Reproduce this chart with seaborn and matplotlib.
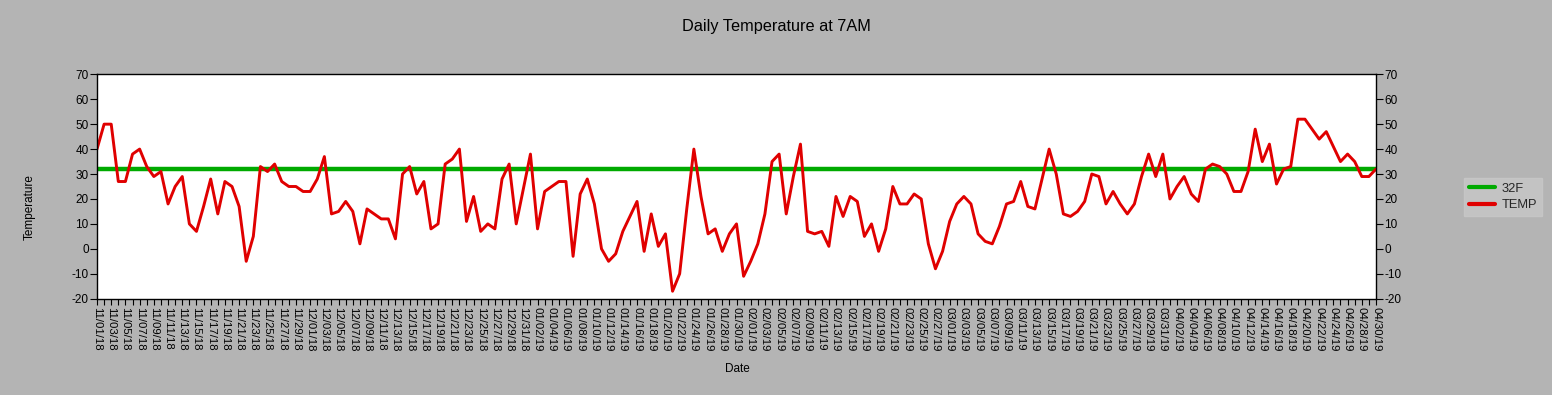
import numpy as np
import pandas as pd
import matplotlib
matplotlib.use("Agg")
import matplotlib.pyplot as plt
import seaborn as sns
from matplotlib.lines import Line2D

# ---- data ----
start_date = "2018-11-01"
end_date = "2019-04-30"
freeze_temp = 32
temps = [
    40, 50, 50, 27, 27, 38, 40, 33, 29, 31,
    18, 25, 29, 10, 7, 17, 28, 14, 27, 25,
    17, -5, 5, 33, 31, 34, 27, 25, 25, 23,
    23, 28, 37, 14, 15, 19, 15, 2, 16, 14,
    12, 12, 4, 30, 33, 22, 27, 8, 10, 34,
    36, 40, 11, 21, 7, 10, 8, 28, 34, 10,
    24, 38, 8, 23, 25, 27, 27, -3, 22, 28,
    18, 0, -5, -2, 7, 13, 19, -1, 14, 1,
    6, -17, -10, 16, 40, 21, 6, 8, -1, 6,
    10, -11, -5, 2, 14, 35, 38, 14, 29, 42,
    7, 6, 7, 1, 21, 13, 21, 19, 5, 10,
    -1, 8, 25, 18, 18, 22, 20, 2, -8, -1,
    11, 18, 21, 18, 6, 3, 2, 9, 18, 19,
    27, 17, 16, 28, 40, 30, 14, 13, 15, 19,
    30, 29, 18, 23, 18, 14, 18, 29, 38, 29,
    38, 20, 25, 29, 22, 19, 32, 34, 33, 30,
    23, 23, 31, 48, 35, 42, 26, 32, 33, 52,
    52, 48, 44, 47, 41, 35, 38, 35, 29, 29,
    32,
]
y_ticks = [-20, -10, 0, 10, 20, 30, 40, 50, 60, 70]

dates = pd.date_range(start_date, end_date, freq="D")
date_labels = [d.strftime("%m/%d/%y") for d in dates]
idx = np.arange(len(dates))

df = pd.DataFrame({
    "idx": np.concatenate([idx, idx]),
    "value": np.concatenate([np.full(len(idx), freeze_temp), np.array(temps)]),
    "series": ["32F"] * len(idx) + ["TEMP"] * len(idx),
})

# ---- style ----
sns.set_theme(style="white")
plt.rcParams["font.family"] = ["Liberation Sans", "DejaVu Sans"]

bg = "#b4b4b4"
fig = plt.figure(figsize=(15.52, 3.95), dpi=100, facecolor=bg)
ax = fig.add_axes([97 / 1552, 1 - 298.7 / 395, (1376 - 97) / 1552, (298.7 - 74.3) / 395])
ax.set_facecolor("white")

palette = {"32F": "#00aa00", "TEMP": "#e00000"}
sns.lineplot(data=df[df.series == "32F"], x="idx", y="value", color=palette["32F"],
             linewidth=3.2, ax=ax, legend=False)
sns.lineplot(data=df[df.series == "TEMP"], x="idx", y="value", color=palette["TEMP"],
             linewidth=2.1, ax=ax, legend=False)

ax.set_xlim(0, len(idx) - 1)
ax.set_ylim(-20, 70)
ax.set_yticks(y_ticks)
ax.set_yticklabels([str(v) for v in y_ticks])
ax.set_xticks(idx, minor=True)
ax.set_xticks(idx[::2])
ax.set_xticklabels(date_labels[::2], rotation=270, ha="center", va="top")
ax.tick_params(axis="x", which="both", direction="out", length=4, width=0.8,
               colors="black", labelsize=8.2, pad=2, bottom=True)
ax.tick_params(axis="y", which="both", direction="out", length=5, width=0.8,
               colors="black", labelsize=8.5, left=True, right=True,
               labelleft=True, labelright=True, pad=1)
for s in ax.spines.values():
    s.set_color("black")
    s.set_linewidth(1.0)
ax.set_xlabel("")
ax.set_ylabel("")

fig.text(776 / 1552, 1 - 27 / 395, "Daily Temperature at 7AM", ha="center", va="center",
         fontsize=11.7, color="black")
fig.text(30 / 1552, 1 - 207 / 395, "Temperature", rotation=90, ha="center", va="center",
         fontsize=8.5, color="black")
fig.text(737 / 1552, 1 - 369 / 395, "Date", ha="center", va="center",
         fontsize=8.5, color="black")

handles = [Line2D([], [], color=palette["32F"], linewidth=3),
           Line2D([], [], color=palette["TEMP"], linewidth=3)]
leg = fig.legend(handles, ["32F", "TEMP"], loc="center",
                 bbox_to_anchor=(1503 / 1552, 1 - 197 / 395),
                 frameon=True, fontsize=9.3, handlelength=2.0, handletextpad=0.5,
                 borderpad=0.4, labelspacing=0.35, fancybox=False)
leg.get_frame().set_facecolor("#c8c8c8")
leg.get_frame().set_edgecolor("#c8c8c8")

fig.savefig("out.png", dpi=100, facecolor=bg)
